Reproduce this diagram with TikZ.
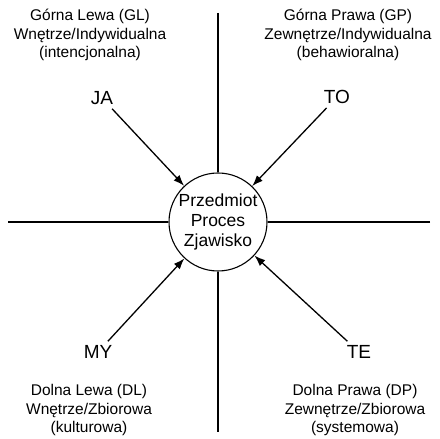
\documentclass[tikz,border=0pt]{standalone}
\usepackage{fontspec}
\setmainfont{Liberation Sans}
\usetikzlibrary{arrows.meta}
\begin{document}
\begin{tikzpicture}[x=1pt,y=1pt,
  quad/.style={align=center, font=\fontsize{15.5}{18.5}\selectfont},
  who/.style={font=\fontsize{19}{22}\selectfont, inner sep=4pt},
  arr/.style={-{Latex[length=11pt,width=8pt]}, line width=1.3pt},
  axis/.style={line width=1.4pt}]
  \useasboundingbox (0,0) rectangle (440,439);

  % Object in the middle
  \node[circle, draw, line width=1.1pt, minimum size=98pt, inner sep=0pt, align=center,
        font=\fontsize{17.5}{20}\selectfont] (obj) at (218,217) {Przedmiot\\Proces\\Zjawisko};

  % Axes
  \coordinate (top)    at (218,426);
  \coordinate (bottom) at (218,7);
  \coordinate (left)   at (8,217);
  \coordinate (right)  at (430,217);
  \foreach \p in {top,bottom,left,right}
    \draw[axis] (\p) -- (obj);

  % Quadrants
  \node[quad] (gl) at (90,404)  {Górna Lewa (GL)\\Wnętrze/Indywidualna\\(intencjonalna)};
  \node[quad] (gp) at (348,404) {Górna Prawa (GP)\\Zewnętrze/Indywidualna\\(behawioralna)};
  \node[quad] (dl) at (89,29)   {Dolna Lewa (DL)\\Wnętrze/Zbiorowa\\(kulturowa)};
  \node[quad] (dp) at (355,29)  {Dolna Prawa (DP)\\Zewnętrze/Zbiorowa\\(systemowa)};

  % Perspectives
  \node[who] (ja) at (102,341) {JA};
  \node[who] (to) at (337,342) {TO};
  \node[who] (my) at (98,87)   {MY};
  \node[who] (te) at (359,87)  {TE};
  \foreach \w in {ja,to,my,te}
    \draw[arr] (\w) -- (obj);
\end{tikzpicture}
\end{document}
